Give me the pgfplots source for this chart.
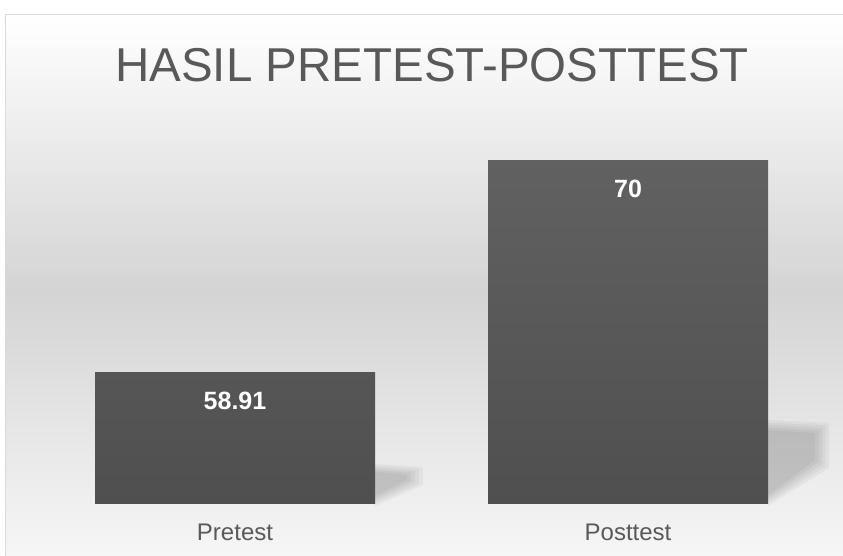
\documentclass[border=0pt]{standalone}
\usepackage{pgfplots}
\pgfplotsset{compat=1.18}
\usepackage{fontspec}
\setmainfont{Liberation Sans}
\definecolor{txt}{HTML}{595959}
\definecolor{bartop}{HTML}{616161}
\definecolor{barbot}{HTML}{4F4F4F}
\definecolor{bgmid}{HTML}{D4D4D4}
\definecolor{frame}{HTML}{D9D9D9}
\pgfdeclareverticalshading{bgshade}{100bp}{color(0bp)=(white); color(25bp)=(white!97!black); color(50bp)=(bgmid); color(75bp)=(white); color(100bp)=(white)}
\begin{document}
\begin{tikzpicture}[x=1pt,y=1pt]
\useasboundingbox (0,0) rectangle (843,556);
\shade[shading=bgshade] (5.5,-10) rectangle (850,541.5);
\draw[frame, line width=1pt] (5.5,-10) rectangle (850,541.5);
\node[anchor=base, text=txt, font=\fontsize{47.5}{50}\selectfont, inner sep=0pt] at (432,474) {HASIL PRETEST-POSTTEST};
\begin{axis}[
  at={(38.5pt,52pt)}, anchor=south west,
  scale only axis, width=786pt, height=382pt,
  xmin=-0.5, xmax=1.5, ymin=52, ymax=72,
  axis line style={draw=none},
  major tick length=0pt,
  ytick=\empty,
  xtick=data,
  xticklabels={Pretest,Posttest},
  xticklabel style={text=txt, font=\fontsize{24}{26}\selectfont, inner sep=0pt, anchor=north, yshift=-20pt},
  clip=false,
]
% soft shadows (layered)
\fill[black, opacity=0.04] (axis cs:0.356,54.09) -- (axis cs:0.478,53.94) -- (axis cs:0.478,52.99) -- (axis cs:0.356,51.9) -- cycle;
\fill[black, opacity=0.04] (axis cs:0.356,53.99) -- (axis cs:0.468,53.84) -- (axis cs:0.468,53.06) -- (axis cs:0.356,52.03) -- cycle;
\fill[black, opacity=0.04] (axis cs:0.356,53.88) -- (axis cs:0.458,53.73) -- (axis cs:0.458,53.13) -- (axis cs:0.356,52.16) -- cycle;
\fill[black, opacity=0.04] (axis cs:0.356,53.78) -- (axis cs:0.448,53.63) -- (axis cs:0.448,53.19) -- (axis cs:0.356,52.29) -- cycle;
\fill[black, opacity=0.04] (axis cs:0.356,53.67) -- (axis cs:0.438,53.52) -- (axis cs:0.438,53.26) -- (axis cs:0.356,52.42) -- cycle;
\fill[black, opacity=0.04] (axis cs:1.356,56.39) -- (axis cs:1.511,56.24) -- (axis cs:1.511,53.88) -- (axis cs:1.356,51.9) -- cycle;
\fill[black, opacity=0.04] (axis cs:1.356,56.26) -- (axis cs:1.502,56.11) -- (axis cs:1.502,53.99) -- (axis cs:1.356,52.04) -- cycle;
\fill[black, opacity=0.04] (axis cs:1.356,56.13) -- (axis cs:1.494,55.98) -- (axis cs:1.494,54.09) -- (axis cs:1.356,52.19) -- cycle;
\fill[black, opacity=0.04] (axis cs:1.356,56.00) -- (axis cs:1.485,55.84) -- (axis cs:1.485,54.20) -- (axis cs:1.356,52.33) -- cycle;
\fill[black, opacity=0.04] (axis cs:1.356,55.87) -- (axis cs:1.476,55.71) -- (axis cs:1.476,54.30) -- (axis cs:1.356,52.47) -- cycle;
\addplot[ybar, bar width=280pt, draw=none, top color=bartop, bottom color=barbot,
  point meta=explicit symbolic,
  nodes near coords,
  every node near coord/.append style={anchor=center, yshift=-29pt, text=white, font=\fontsize{25}{27}\selectfont\bfseries}]
  coordinates {(0,58.91) [58.91] (1,70) [70]};
\end{axis}
\end{tikzpicture}
\end{document}
